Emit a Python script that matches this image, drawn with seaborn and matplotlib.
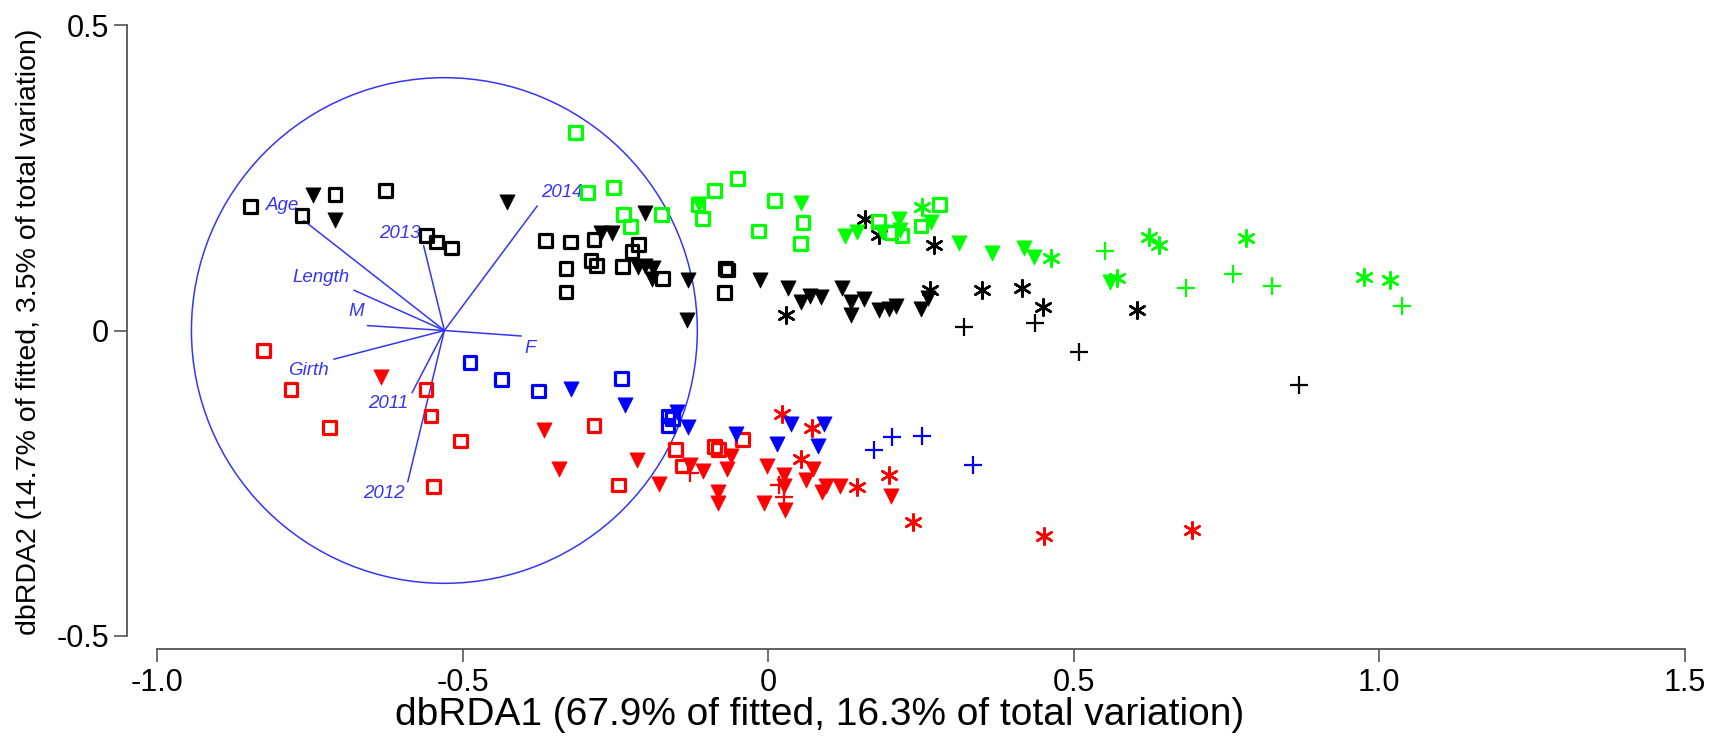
import numpy as np
import pandas as pd
import matplotlib
matplotlib.use("Agg")
import matplotlib.pyplot as plt
from matplotlib.patches import Circle
import seaborn as sns

# ---------------- data (dbRDA scores) ----------------
black_sq = [(-0.847, 0.203), (-0.763, 0.188), (-0.709, 0.223), (-0.627, 0.229), (-0.559, 0.156),
            (-0.543, 0.145), (-0.519, 0.135), (-0.365, 0.148), (-0.323, 0.145), (-0.285, 0.149),
            (-0.331, 0.101), (-0.331, 0.063), (-0.290, 0.115), (-0.281, 0.106), (-0.239, 0.105),
            (-0.223, 0.130), (-0.212, 0.141), (-0.173, 0.085), (-0.070, 0.102), (-0.066, 0.099),
            (-0.072, 0.062)]
black_tri = [(-0.745, 0.222), (-0.709, 0.181), (-0.427, 0.211), (-0.273, 0.159), (-0.256, 0.159),
             (-0.202, 0.192), (-0.213, 0.104), (-0.202, 0.105), (-0.191, 0.085), (-0.189, 0.102),
             (-0.132, 0.082), (-0.133, 0.017), (-0.013, 0.083), (0.032, 0.069), (0.053, 0.047),
             (0.068, 0.057), (0.087, 0.055), (0.120, 0.069), (0.136, 0.047), (0.136, 0.025),
             (0.156, 0.051), (0.181, 0.034), (0.197, 0.036), (0.209, 0.040), (0.250, 0.036),
             (0.262, 0.053)]
black_ast = [(0.159, 0.182), (0.181, 0.156), (0.272, 0.140), (0.029, 0.025), (0.265, 0.066),
             (0.350, 0.066), (0.415, 0.069), (0.449, 0.039), (0.603, 0.034)]
black_plus = [(0.320, 0.006), (0.437, 0.013), (0.508, -0.036), (0.868, -0.089)]

green_sq = [(-0.316, 0.324), (-0.296, 0.226), (-0.253, 0.234), (-0.237, 0.190), (-0.226, 0.170),
            (-0.174, 0.190), (-0.115, 0.206), (-0.108, 0.184), (-0.088, 0.229), (-0.050, 0.249),
            (-0.016, 0.163), (0.010, 0.213), (0.057, 0.177), (0.053, 0.142), (0.180, 0.178),
            (0.201, 0.160), (0.219, 0.155), (0.250, 0.171), (0.281, 0.206)]
green_tri = [(-0.113, 0.207), (0.054, 0.208), (0.125, 0.155), (0.145, 0.162), (0.187, 0.162),
             (0.214, 0.182), (0.216, 0.165), (0.267, 0.178), (0.312, 0.144), (0.367, 0.127),
             (0.418, 0.135), (0.435, 0.121), (0.560, 0.080)]
green_ast = [(0.252, 0.203), (0.463, 0.118), (0.624, 0.153), (0.639, 0.140), (0.782, 0.152),
             (0.571, 0.086), (0.975, 0.087), (1.017, 0.082)]
green_plus = [(0.552, 0.131), (0.684, 0.070), (0.761, 0.093), (0.825, 0.073), (1.038, 0.040)]

red_sq = [(-0.826, -0.033), (-0.781, -0.096), (-0.718, -0.159), (-0.560, -0.096), (-0.552, -0.140),
          (-0.503, -0.181), (-0.548, -0.255), (-0.285, -0.155), (-0.245, -0.253), (-0.152, -0.195),
          (-0.141, -0.222), (-0.088, -0.190), (-0.082, -0.195), (-0.042, -0.178)]
red_tri = [(-0.634, -0.076), (-0.367, -0.163), (-0.342, -0.227), (-0.214, -0.212), (-0.179, -0.252),
           (-0.128, -0.220), (-0.106, -0.230), (-0.082, -0.264), (-0.082, -0.283), (-0.067, -0.227),
           (-0.061, -0.205), (-0.007, -0.283), (-0.002, -0.222), (0.026, -0.236), (0.026, -0.255),
           (0.028, -0.294), (0.062, -0.245), (0.073, -0.227), (0.088, -0.264), (0.095, -0.255),
           (0.117, -0.255), (0.201, -0.271)]
red_ast = [(0.022, -0.136), (0.071, -0.159), (0.053, -0.210), (0.146, -0.256), (0.197, -0.237),
           (0.237, -0.313), (0.451, -0.337), (0.693, -0.327)]
red_plus = [(-0.128, -0.234), (0.018, -0.253), (0.026, -0.272)]

blue_sq = [(-0.488, -0.053), (-0.437, -0.080), (-0.376, -0.099), (-0.240, -0.078), (-0.164, -0.140),
           (-0.164, -0.156), (-0.156, -0.144)]
blue_tri = [(-0.323, -0.096), (-0.234, -0.122), (-0.150, -0.134), (-0.131, -0.158), (-0.053, -0.169),
            (0.015, -0.186), (0.037, -0.153), (0.082, -0.189), (0.091, -0.153)]
blue_plus = [(0.173, -0.195), (0.202, -0.175), (0.251, -0.172), (0.335, -0.220)]

# vector overlay
vec_names = ["Age", "Length", "M", "F", "Girth", "2011", "2012", "2013", "2014"]
vec_end_x = [-0.760, -0.678, -0.656, -0.404, -0.711, -0.583, -0.590, -0.564, -0.378]
vec_end_y = [0.180, 0.066, 0.008, -0.009, -0.047, -0.102, -0.248, 0.139, 0.204]
circle_center = (-0.530, 0.0)
circle_radius = 0.414

x_ticks = [-1.0, -0.5, 0.0, 0.5, 1.0, 1.5]
x_ticklabels = ["-1.0", "-0.5", "0", "0.5", "1.0", "1.5"]
y_ticks = [-0.5, 0.0, 0.5]
y_ticklabels = ["-0.5", "0", "0.5"]
x_label = "dbRDA1 (67.9% of fitted, 16.3% of total variation)"
y_label = "dbRDA2 (14.7% of fitted, 3.5% of total variation)"

# ---------------- build long table ----------------
groups = {
    ("black", "sq"): black_sq, ("black", "tri"): black_tri, ("black", "ast"): black_ast, ("black", "plus"): black_plus,
    ("green", "sq"): green_sq, ("green", "tri"): green_tri, ("green", "ast"): green_ast, ("green", "plus"): green_plus,
    ("red", "sq"): red_sq, ("red", "tri"): red_tri, ("red", "ast"): red_ast, ("red", "plus"): red_plus,
    ("blue", "sq"): blue_sq, ("blue", "tri"): blue_tri, ("blue", "plus"): blue_plus,
}
rows = []
for (col, shp), pts in groups.items():
    for (x, y) in pts:
        rows.append({"x": x, "y": y, "colour": col, "shape": shp})
df = pd.DataFrame(rows)

# ---------------- styling ----------------
sns.set_theme(style="white")
plt.rcParams["font.family"] = ["Liberation Sans", "DejaVu Sans"]
plt.rcParams["axes.labelcolor"] = "black"
plt.rcParams["text.color"] = "black"

colour_map = {"black": "#000000", "green": "#00FF00", "red": "#FF0000", "blue": "#0000FF"}
vec_colour = "#3535F5"

fig = plt.figure(figsize=(17.21, 7.40), dpi=100)
ax = fig.add_axes([0.0736, 0.1226, 0.9124, 0.8599])
ax.set_xlim(-1.05, 1.52)
ax.set_ylim(-0.522, 0.52)

# circle and vectors
ax.add_patch(Circle(circle_center, circle_radius, fill=False, edgecolor=vec_colour, lw=1.1, zorder=1))
label_offsets = {"Age": (-15, 11), "Length": (-24, 9), "M": (-8, 10), "F": (6, -9), "Girth": (-18, -8),
                 "2011": (-17, -8), "2012": (-17, -8), "2013": (-17, 9), "2014": (18, 10)}
for name, ex, ey in zip(vec_names, vec_end_x, vec_end_y):
    ax.plot([circle_center[0], ex], [circle_center[1], ey], color=vec_colour, lw=1.1, zorder=1)
    ax.annotate(name, (ex, ey), xytext=label_offsets[name], textcoords="offset points",
                ha="center", va="center", fontsize=13.5, style="italic", color=vec_colour, zorder=2)

# points
for (col, shp), pts in groups.items():
    sub = df[(df.colour == col) & (df["shape"] == shp)]
    c = colour_map[col]
    if shp == "sq":
        sns.scatterplot(data=sub, x="x", y="y", marker="s", s=85, color=c, facecolor="none",
                        edgecolor=c, linewidth=2.3, ax=ax, legend=False, zorder=3)
    elif shp == "tri":
        sns.scatterplot(data=sub, x="x", y="y", marker="v", s=120, color=c, edgecolor=c,
                        linewidth=0.5, ax=ax, legend=False, zorder=3)
    elif shp == "ast":
        sns.scatterplot(data=sub, x="x", y="y", marker=(6, 2, 0), s=140, color=c, edgecolor=c,
                        linewidth=1.8, ax=ax, legend=False, zorder=3)
    else:
        sns.scatterplot(data=sub, x="x", y="y", marker="+", s=150, color=c, edgecolor=c,
                        linewidth=1.6, ax=ax, legend=False, zorder=3)

# axes styling (detached spines)
for side in ["top", "right"]:
    ax.spines[side].set_visible(False)
for side in ["left", "bottom"]:
    ax.spines[side].set_visible(True)
    ax.spines[side].set_color("#555555")
    ax.spines[side].set_linewidth(1.3)
ax.spines["left"].set_bounds(-0.5, 0.5)
ax.spines["bottom"].set_bounds(-1.0, 1.5)

ax.set_xticks(x_ticks)
ax.set_xticklabels(x_ticklabels)
ax.set_yticks(y_ticks)
ax.set_yticklabels(y_ticklabels)
ax.tick_params(axis="both", direction="out", length=9.5, width=1.2, color="#555555",
               labelsize=22, labelcolor="black", left=True, bottom=True)
ax.tick_params(axis="x", pad=4)
ax.tick_params(axis="y", pad=3)

ax.set_xlabel(x_label, fontsize=28, va="center", color="black")
ax.set_ylabel(y_label, fontsize=20.5, color="black")
ax.xaxis.set_label_coords(0.441, -0.104)
ax.yaxis.set_label_coords(-0.054, 0.4987)

fig.savefig("out.png", dpi=100, facecolor="white")
